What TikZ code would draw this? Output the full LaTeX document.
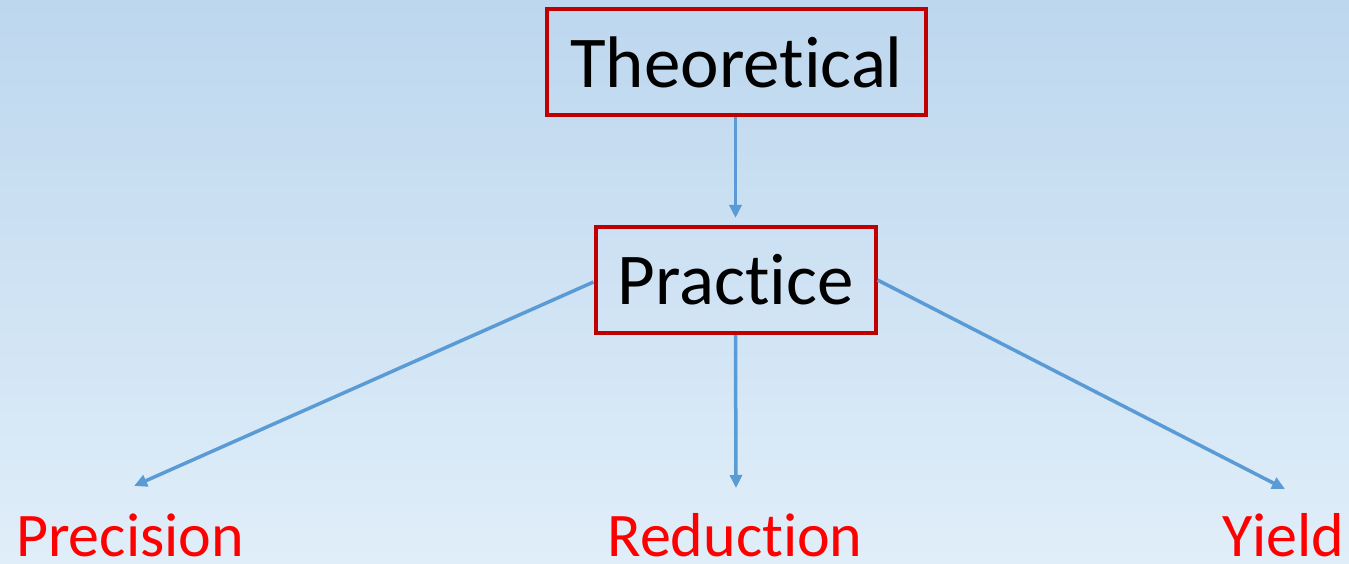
\documentclass[tikz,border=0pt]{standalone}
\usepackage{fontspec}
\setmainfont{Carlito}[RawFeature={-liga;-clig}]
\usetikzlibrary{arrows.meta}

\definecolor{bgtop}{RGB}{189,215,238}
\definecolor{bgbot}{RGB}{224,238,249}
\definecolor{boxred}{RGB}{192,0,0}
\definecolor{linkblue}{RGB}{91,155,213}

\tikzset{
  stagebox/.style={draw=boxred, line width=4pt, inner sep=0pt, font=\fontsize{73}{80}\selectfont},
  outcome/.style={text=red, inner sep=0pt, anchor=base, font=\fontsize{62}{70}\selectfont},
  link/.style={draw=linkblue, line width=3.5pt, -{Triangle[length=13pt,width=12pt]}}
}

\begin{document}
\begin{tikzpicture}[x=1pt, y=-1pt]
\shade[top color=bgtop, bottom color=bgbot] (0,0) rectangle (1349,564);
\useasboundingbox (0,0) rectangle (1349,564);
\node [stagebox, minimum width=379pt, minimum height=106pt] (theo) at (736.5,62) {Theoretical};
\node [stagebox, minimum width=280pt, minimum height=106pt] (prac) at (735.5,280) {Practice};
\node [outcome] (prec) at (130,556) {Precision};
\node [outcome] (redu) at (735,556) {Reduction};
\node [outcome] (yiel) at (1283.5,556) {Yield};
\coordinate (precend) at (134,486);
\coordinate (reduend) at (736,488);
\coordinate (yielend) at (1285,489);
\draw [link] (theo.south -| prac.north) -- ([yshift=7pt]prac.north);
\draw [link] (prac.south) -- (reduend);
\draw [link] ([yshift=-2pt]prac.west) -- (precend);
\draw [link] (prac.east) -- (yielend);
\end{tikzpicture}
\end{document}
